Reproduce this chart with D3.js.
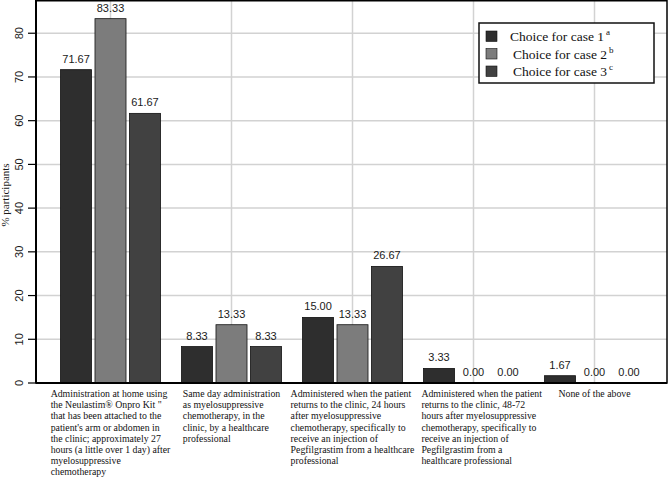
<!DOCTYPE html>
<html>
<head>
<meta charset="utf-8">
<script src="https://cdn.jsdelivr.net/npm/d3@7"></script>
<style>
  body { margin: 0; background: #fff; }
  svg { display: block; }
</style>
</head>
<body>
<div id="chart"></div>
<script>
// Data
const categories = ['admin_home', 'same_day', 'return_24h', 'return_48_72h', 'none'];
const categoryLines = [
  ['Administration at home using', 'the Neulastim\u00AE Onpro Kit "', 'that has been attached to the',
   "patient's arm or abdomen in", 'the clinic; approximately 27', 'hours (a little over 1 day) after',
   'myelosuppressive', 'chemotherapy'],
  ['Same day administration', 'as myelosuppressive', 'chemotherapy, in the',
   'clinic, by a healthcare', 'professional'],
  ['Administered when the patient', 'returns to the clinic, 24 hours', 'after myelosuppressive',
   'chemotherapy, specifically to', 'receive an injection of', 'Pegfilgrastim from a healthcare',
   'professional'],
  ['Administered when the patient', 'returns to the clinic, 48-72', 'hours after myelosuppressive',
   'chemotherapy, specifically to', 'receive an injection of', 'Pegfilgrastim from a',
   'healthcare professional'],
  ['None of the above']
];
const seriesNames = ['Choice for case 1', 'Choice for case 2', 'Choice for case 3'];
const seriesSup = ['a', 'b', 'c'];
const case1 = [71.67, 8.33, 15.00, 3.33, 1.67];
const case2 = [83.33, 13.33, 13.33, 0.00, 0.00];
const case3 = [61.67, 8.33, 26.67, 0.00, 0.00];
const yTicks = [0, 10, 20, 30, 40, 50, 60, 70, 80];

const seriesValues = [case1, case2, case3];
const colors = ['#2e2e2e', '#7c7c7c', '#414141'];

const W = 669, H = 478;
const axisX = 36, plotRight = 667, plotTop = 0, plotBottom = 383;

const svg = d3.select('#chart').append('svg')
  .attr('width', W).attr('height', H);

// Scales
const y = d3.scaleLinear().domain([0, 87.6]).range([plotBottom, plotTop]);
const x0 = d3.scaleBand().domain(categories).range([50, 655]).padding(0);
const x1 = d3.scaleBand().domain(d3.range(3)).range([-50, 50]).paddingInner(0.1);

// Grid
svg.append('g').selectAll('line.hgrid')
  .data(yTicks.filter(t => t > 0))
  .join('line')
  .attr('x1', axisX + 1).attr('x2', plotRight)
  .attr('y1', d => y(d)).attr('y2', d => y(d))
  .attr('stroke', '#d2d2d2').attr('stroke-width', 1.5);

svg.append('g').selectAll('line.vgrid')
  .data(categories)
  .join('line')
  .attr('x1', d => x0(d) + x0.bandwidth() / 2).attr('x2', d => x0(d) + x0.bandwidth() / 2)
  .attr('y1', plotTop).attr('y2', plotBottom)
  .attr('stroke', '#d2d2d2').attr('stroke-width', 1.5);

// Bars
const groups = svg.append('g').selectAll('g')
  .data(categories)
  .join('g')
  .attr('transform', d => `translate(${x0(d) + x0.bandwidth() / 2},0)`);

groups.selectAll('rect')
  .data((d, i) => seriesValues.map((s, k) => ({ k, v: s[i] })))
  .join('rect')
  .attr('x', d => x1(d.k))
  .attr('width', x1.bandwidth())
  .attr('y', d => y(d.v))
  .attr('height', d => y(0) - y(d.v))
  .attr('fill', d => colors[d.k])
  .attr('stroke', '#111')
  .attr('stroke-width', 0.8);

groups.selectAll('text')
  .data((d, i) => seriesValues.map((s, k) => ({ k, v: s[i] })))
  .join('text')
  .attr('x', d => x1(d.k) + x1.bandwidth() / 2)
  .attr('y', d => y(d.v) - 7)
  .attr('text-anchor', 'middle')
  .attr('font-family', 'Liberation Sans, Arial, sans-serif')
  .attr('font-size', 11)
  .attr('fill', '#1a1a1a')
  .text(d => d.v.toFixed(2));

// Frame
svg.append('rect')
  .attr('x', axisX).attr('y', plotTop + 0.75)
  .attr('width', plotRight - axisX).attr('height', plotBottom - plotTop - 0.75)
  .attr('fill', 'none').attr('stroke', '#000').attr('stroke-width', 1.5);
svg.append('line')
  .attr('x1', axisX).attr('x2', plotRight)
  .attr('y1', plotBottom).attr('y2', plotBottom)
  .attr('stroke', '#000').attr('stroke-width', 2);
svg.append('line')
  .attr('x1', axisX).attr('x2', axisX)
  .attr('y1', plotTop).attr('y2', plotBottom)
  .attr('stroke', '#000').attr('stroke-width', 2);

// Y axis ticks
const yAxis = svg.append('g');
yAxis.selectAll('line')
  .data(yTicks)
  .join('line')
  .attr('x1', axisX - 8).attr('x2', axisX)
  .attr('y1', d => y(d)).attr('y2', d => y(d))
  .attr('stroke', '#000').attr('stroke-width', 1.2);
yAxis.selectAll('text')
  .data(yTicks)
  .join('text')
  .attr('transform', d => `translate(23,${y(d)}) rotate(-90)`)
  .attr('text-anchor', 'middle')
  .attr('font-family', 'Liberation Sans, Arial, sans-serif')
  .attr('font-size', 11)
  .attr('fill', '#1a1a1a')
  .text(d => d);

svg.append('text')
  .attr('transform', `translate(9,195) rotate(-90)`)
  .attr('text-anchor', 'middle')
  .attr('font-family', 'Liberation Serif, Times New Roman, serif')
  .attr('font-size', 11)
  .attr('fill', '#1a1a1a')
  .text('% participants');

// Category labels: lines left-aligned, block centred on group,
// nudged right if it would run into the previous block
let prevEnd = -Infinity;
categories.forEach((c, i) => {
  const cx = x0(c) + x0.bandwidth() / 2;
  const t = svg.append('text')
    .attr('font-family', 'Liberation Serif, Times New Roman, serif')
    .attr('font-size', 9.8)
    .attr('fill', '#111');
  t.selectAll('tspan')
    .data(categoryLines[i])
    .join('tspan')
    .attr('y', (d, j) => 397 + j * 11.2)
    .text(d => d);
  let maxW = 0;
  t.selectAll('tspan').each(function () {
    maxW = Math.max(maxW, this.getComputedTextLength());
  });
  const left = Math.max(cx - maxW / 2, prevEnd + 7);
  t.selectAll('tspan').attr('x', left);
  prevEnd = left + maxW;
});

// Legend
const legend = svg.append('g');
legend.append('rect')
  .attr('x', 479).attr('y', 23).attr('width', 175).attr('height', 60)
  .attr('fill', '#fff').attr('stroke', '#111').attr('stroke-width', 1.5);
seriesNames.forEach((name, k) => {
  const ry = 31 + k * 17.5;
  legend.append('rect')
    .attr('x', 486).attr('y', ry).attr('width', 11).attr('height', 10.5)
    .attr('fill', colors[k]).attr('stroke', '#111').attr('stroke-width', 0.6);
  const t = legend.append('text')
    .attr('x', k === 0 ? 510 : 513).attr('y', ry + 10)
    .attr('font-family', 'Liberation Serif, Times New Roman, serif')
    .attr('font-size', 13.5)
    .attr('fill', '#111');
  t.append('tspan').text(name);
  t.append('tspan').attr('dx', 2).attr('dy', -6).attr('font-size', 9).text(seriesSup[k]);
});
</script>
</body>
</html>
